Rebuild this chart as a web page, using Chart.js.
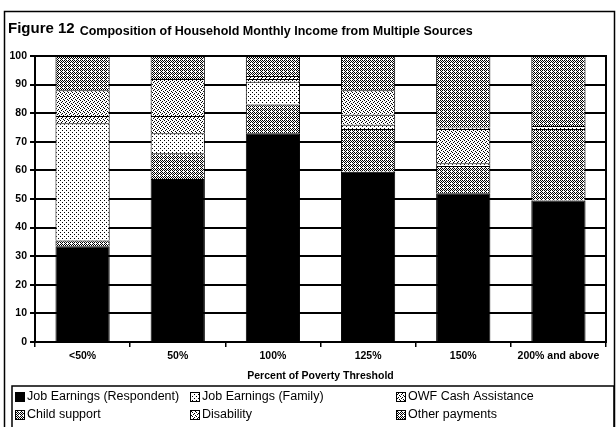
<!DOCTYPE html>
<html>
<head>
<meta charset="utf-8">
<script src="https://cdn.jsdelivr.net/npm/chart.js@4/dist/chart.umd.min.js"></script>
<style>
  html, body { margin: 0; padding: 0; background: #fff; }
  #wrap { width: 616px; height: 427px; }
</style>
</head>
<body>
<div id="wrap"><canvas id="incomeChart" width="616" height="427"></canvas></div>
<script>
// data (percent of monthly income), stacked bottom to top
const categories = ["<50%", "50%", "100%", "125%", "150%", "200% and above"];
const seriesNames = ["Job Earnings (Respondent)", "Child support", "Job Earnings (Family)",
                     "Disability", "OWF Cash Assistance", "Other payments"];
const respondentEarnings = [33.5, 57, 73, 59.5, 52, 49.5];
const childSupport       = [2, 9, 10, 15, 9.5, 25];
const familyEarnings     = [41, 7, 8, 1.5, 1, 1];
const disability         = [2.5, 6, 1, 3.5, 12, 0];
const owfCash            = [9, 13, 1, 8.5, 0.5, 0];
const otherPayments      = [12, 8, 7, 12, 25, 24.5];
const yTickStep = 10;

const FONT = "'Liberation Sans', Arial, sans-serif";
const canvas = document.getElementById("incomeChart");

// little dotted fills to look like the printed hatching
function makePattern(rows) {
    const c = document.createElement("canvas");
    c.width = rows[0].length;
    c.height = rows.length;
    const g = c.getContext("2d");
    g.fillStyle = "#fff";
    g.fillRect(0, 0, c.width, c.height);
    g.fillStyle = "#000";
    rows.forEach((r, y) => {
        for (let x = 0; x < r.length; x++) {
            if (r[x] === "1") g.fillRect(x, y, 1, 1);
        }
    });
    return canvas.getContext("2d").createPattern(c, "repeat");
}

const dense  = makePattern(["1010", "0101", "1010", "0100"]);
const medium = makePattern(["1000", "0010", "0100", "0001"]);
const light  = makePattern(["1000", "0000", "0010", "0000"]);
const fills = ["#000", dense, light, medium, medium, dense];

const seriesData = [respondentEarnings, childSupport, familyEarnings, disability, owfCash, otherPayments];

const framePlugin = {
    id: "frame",
    afterDraw(chart) {
        const c = chart.ctx;
        const a = chart.chartArea;
        c.save();
        // outer frame
        c.strokeStyle = "#000";
        c.lineWidth = 1.5;
        c.strokeRect(4.5, 11.5, 610, 420);
        // plot box
        c.lineWidth = 2;
        c.strokeRect(a.left, a.top, a.right - a.left, a.bottom - a.top);

        // title
        c.fillStyle = "#000";
        c.textBaseline = "alphabetic";
        c.font = "bold 15px " + FONT;
        c.fillText("Figure 12", 8, 33);
        const w = c.measureText("Figure 12").width;
        c.font = "bold 12.5px " + FONT;
        c.fillText("Composition of Household Monthly Income from Multiple Sources", 8 + w + 5, 35);

        // legend box, three columns filled top-down
        c.lineWidth = 1.5;
        c.strokeRect(12, 386, 602, 45);
        const colX = [15, 190, 396];
        const rowY = [397, 415];
        c.font = "12.5px " + FONT;
        c.textBaseline = "middle";
        chart.data.datasets.forEach((ds, i) => {
            const x = colX[Math.floor(i / 2)];
            const y = rowY[i % 2];
            c.fillStyle = ds.backgroundColor;
            c.fillRect(x, y - 5, 10, 10);
            c.lineWidth = 1;
            c.strokeStyle = "#000";
            c.strokeRect(x + 0.5, y - 4.5, 9, 9);
            c.fillStyle = "#000";
            c.fillText(ds.label, x + 12, y);
        });
        c.restore();
    }
};

new Chart(canvas, {
    type: "bar",
    data: {
        labels: categories,
        datasets: seriesData.map((vals, i) => ({
            label: seriesNames[i],
            data: vals,
            backgroundColor: fills[i],
            borderColor: "#000",
            borderWidth: 1,
            barPercentage: 0.57,
            categoryPercentage: 1
        }))
    },
    options: {
        responsive: false,
        animation: false,
        layout: { padding: { top: 56, right: 10, bottom: 42, left: 0 } },
        plugins: {
            legend: { display: false },
            tooltip: { enabled: false }
        },
        scales: {
            x: {
                stacked: true,
                grid: { offset: true, drawOnChartArea: false, color: "#000", lineWidth: 1.5, tickLength: 5 },
                border: { color: "#000", width: 2 },
                ticks: { color: "#000", font: { family: FONT, weight: "bold", size: 10.5 }, padding: 3 },
                title: {
                    display: true,
                    text: "Percent of Poverty Threshold",
                    color: "#000",
                    font: { family: FONT, weight: "bold", size: 10.5 },
                    padding: { top: 0, bottom: 3 }
                },
                afterFit: s => { s.height = 43; }
            },
            y: {
                stacked: true,
                min: 0,
                max: 100,
                ticks: { stepSize: yTickStep, color: "#000", font: { family: FONT, weight: "bold", size: 10.5 }, padding: 3 },
                grid: { color: "#000", lineWidth: 2, tickLength: 5 },
                border: { color: "#000", width: 2 },
                afterFit: s => { s.width = 35; }
            }
        }
    },
    plugins: [framePlugin]
});
</script>
</body>
</html>
